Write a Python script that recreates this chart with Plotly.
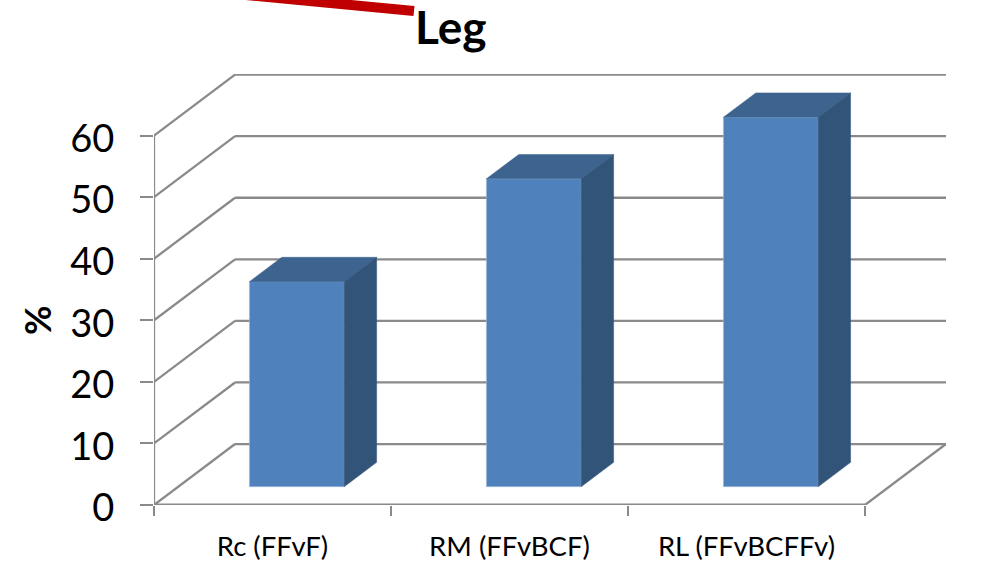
import plotly.graph_objects as go

# Chart data
categories = ["Rc (FFvF)", "RM (FFvBCF)", "RL (FFvBCFFv)"]
values = [33.3, 50, 60]
y_ticks = [0, 10, 20, 30, 40, 50, 60]

# Oblique projection: a full step of depth moves this far along each axis
DEPTH_X = 0.342
DEPTH_Y = 9.9
X_MAX = 3.342
Y_MAX = 70

BAR_WIDTH = 0.4
BAR_DEPTH_FRONT = 0.3
BAR_DEPTH_BACK = 0.7

FRONT = "#4f81bd"
TOP = "#3d638f"
SIDE = "#325479"
GRID = "#8a8a8a"
FONT = "Lato"

WIDTH, HEIGHT = 993, 566
LEFT, RIGHT, TOP_M, BOTTOM = 154, 47, 74, 61


def project(x, y, depth):
    return x + depth * DEPTH_X, y + depth * DEPTH_Y


def line_shape(x0, y0, x1, y1, width=2.3):
    return dict(type="line", xref="x", yref="y", x0=x0, y0=y0, x1=x1, y1=y1,
                layer="below", line=dict(color=GRID, width=width))


def paper_x(px):
    return (px - LEFT) / (WIDTH - LEFT - RIGHT)


def paper_y(py):
    return (HEIGHT - BOTTOM - py) / (HEIGHT - TOP_M - BOTTOM)


fig = go.Figure()

# Front faces of the columns
front_x = [project(i + 0.5, 0, BAR_DEPTH_FRONT)[0] for i in range(len(values))]
front_base = project(0, 0, BAR_DEPTH_FRONT)[1]
fig.add_trace(go.Bar(
    x=front_x, y=values, base=front_base, width=BAR_WIDTH,
    marker=dict(color=FRONT, line=dict(color="#a9c0dd", width=0.6)),
    showlegend=False, hoverinfo="skip",
))

# Top and side faces of the columns
for i, value in enumerate(values):
    left = i + 0.5 - BAR_WIDTH / 2
    right = i + 0.5 + BAR_WIDTH / 2
    corners_top = [
        project(left, value, BAR_DEPTH_FRONT),
        project(right, value, BAR_DEPTH_FRONT),
        project(right, value, BAR_DEPTH_BACK),
        project(left, value, BAR_DEPTH_BACK),
    ]
    corners_side = [
        project(right, 0, BAR_DEPTH_FRONT),
        project(right, value, BAR_DEPTH_FRONT),
        project(right, value, BAR_DEPTH_BACK),
        project(right, 0, BAR_DEPTH_BACK),
    ]
    for corners, colour in ((corners_top, TOP), (corners_side, SIDE)):
        xs, ys = zip(*(corners + corners[:1]))
        fig.add_trace(go.Scatter(
            x=xs, y=ys, mode="lines", fill="toself", fillcolor=colour,
            line=dict(color=colour, width=0.5),
            showlegend=False, hoverinfo="skip",
        ))

# Walls, floor and axis lines
shapes = []
for tick in y_ticks:
    bx, by = project(0, tick, 1)
    shapes.append(line_shape(0, tick, bx, by))
    shapes.append(line_shape(bx, by, project(len(values), tick, 1)[0], by))
shapes.append(line_shape(0, 0, 0, max(y_ticks)))
shapes.append(line_shape(0, 0, len(values), 0, width=2.8))
rx, ry = project(len(values), 0, 1)
shapes.append(line_shape(len(values), 0, rx, ry))

# Red leader line running off the top edge
shapes.append(dict(
    type="line", xref="paper", yref="paper",
    x0=paper_x(230), y0=paper_y(-6.5), x1=paper_x(414), y1=paper_y(11),
    line=dict(color="#c00000", width=10),
))

fig.update_layout(
    width=WIDTH, height=HEIGHT, autosize=False,
    margin=dict(l=LEFT, r=RIGHT, t=TOP_M, b=BOTTOM, autoexpand=False),
    paper_bgcolor="white", plot_bgcolor="white",
    font=dict(family=FONT, color="black"),
    shapes=shapes,
    xaxis=dict(
        range=[0, X_MAX], showgrid=False, zeroline=False, showline=False,
        tickmode="array",
        tickvals=[i + 0.5 for i in range(len(categories))],
        ticktext=categories, ticks="",
        tickfont=dict(size=27.5), ticklabelstandoff=22,
        minor=dict(tickmode="array", tickvals=list(range(len(categories) + 1)),
                   ticks="outside", ticklen=10, tickwidth=2, tickcolor=GRID,
                   showgrid=False),
    ),
    yaxis=dict(
        range=[0, Y_MAX], showgrid=False, zeroline=False, showline=False,
        tickmode="array", tickvals=y_ticks,
        ticks="outside", ticklen=13, tickwidth=2, tickcolor=GRID,
        tickfont=dict(size=38), ticklabelstandoff=18, ticklabelshift=3,
    ),
    annotations=[
        dict(text="<b>Leg</b>", xref="paper", yref="paper",
             x=paper_x(414), y=paper_y(26), xanchor="left", yanchor="middle",
             showarrow=False, font=dict(size=46), borderpad=0),
        dict(text="<b>%</b>", xref="paper", yref="paper",
             x=paper_x(37), y=paper_y(320), xanchor="center", yanchor="middle",
             textangle=-90, showarrow=False, font=dict(size=36), borderpad=0),
    ],
)

fig.write_html("out.html")
